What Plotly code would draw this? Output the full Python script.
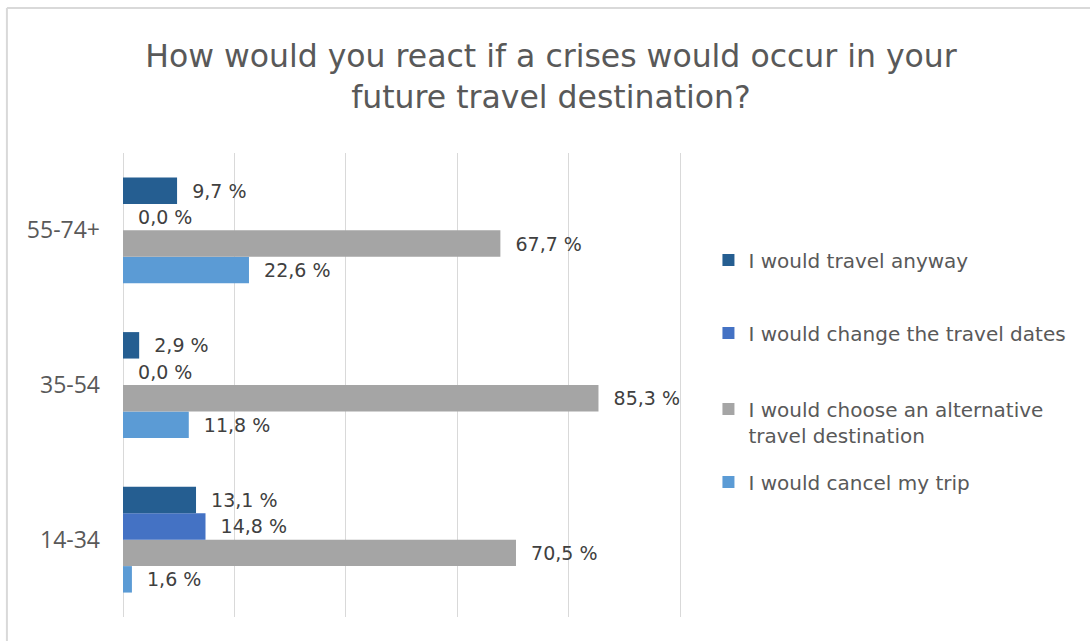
import plotly.graph_objects as go

# Age groups (bottom to top on the chart)
age_groups = ["14-34", "35-54", "55-74+"]

# Share of respondents per reaction, in percent
travel_anyway = [13.1, 2.9, 9.7]
change_dates = [14.8, 0.0, 0.0]
alternative_destination = [70.5, 85.3, 67.7]
cancel_trip = [1.6, 11.8, 22.6]

series_names = [
    "I would travel anyway",
    "I would change the travel dates",
    "I would choose an alternative<br>travel destination",
    "I would cancel my trip",
]
series_values = [travel_anyway, change_dates, alternative_destination, cancel_trip]
series_colors = ["#255E91", "#4472C4", "#A5A5A5", "#5B9BD5"]
legend_ids = ["legend", "legend2", "legend3", "legend4"]
# vertical pixel centre of each legend entry
legend_centres = [260, 333, 422, 482]

FONT = "DejaVu Sans"
TICK_FONT = "Open Sans"
TEXT_GREY = "#595959"

X_MAX = 101  # axis runs a little past 100 so the 100 gridline is drawn
PLOT_LEFT, PLOT_TOP, PLOT_BOTTOM = 123, 153, 617
PX_PER_UNIT = 557 / 100
PLOT_RIGHT = PLOT_LEFT + PX_PER_UNIT * X_MAX
PLOT_W = PLOT_RIGHT - PLOT_LEFT
PLOT_H = PLOT_BOTTOM - PLOT_TOP


def px_to_paper_x(px):
    return (px - PLOT_LEFT) / PLOT_W


def px_to_paper_y(py):
    return (PLOT_BOTTOM - py) / PLOT_H


def pct_label(v):
    return "  " + f"{v:.1f}".replace(".", ",") + " %"


fig = go.Figure()
# Plotly puts the first trace at the bottom of each group, so add them in reverse
for name, vals, color, leg in reversed(list(zip(series_names, series_values, series_colors, legend_ids))):
    fig.add_trace(
        go.Bar(
            y=age_groups,
            x=vals,
            name=name,
            orientation="h",
            marker=dict(color=color, line=dict(width=0)),
            text=[pct_label(v) for v in vals],
            textposition="outside",
            cliponaxis=False,
            textfont=dict(family=FONT, size=19, color="#404040"),
            legend=leg,
        )
    )

legend_common = dict(
    x=px_to_paper_x(708),
    xanchor="left",
    yanchor="middle",
    valign="top",
    font=dict(family=FONT, size=20, color=TEXT_GREY),
    bgcolor="rgba(0,0,0,0)",
)
legend_layout = {
    leg: dict(legend_common, y=px_to_paper_y(cy))
    for leg, cy in zip(legend_ids, legend_centres)
}

fig.update_layout(
    width=1090,
    height=641,
    margin=dict(l=PLOT_LEFT, r=1090 - PLOT_RIGHT, t=PLOT_TOP, b=641 - PLOT_BOTTOM),
    paper_bgcolor="white",
    plot_bgcolor="white",
    barmode="group",
    bargap=0.316,
    bargroupgap=0,
    title=dict(
        text="How would you react if a crises would occur in your<br>future travel destination?",
        x=551 / 1090,
        xref="container",
        xanchor="center",
        y=1 - 67 / 641,
        yref="container",
        yanchor="top",
        font=dict(family=FONT, size=31.5, color=TEXT_GREY),
    ),
    xaxis=dict(
        range=[0, X_MAX],
        dtick=20,
        showticklabels=False,
        showgrid=True,
        gridcolor="#D9D9D9",
        gridwidth=1,
        zeroline=True,
        zerolinecolor="#D9D9D9",
        zerolinewidth=1,
        showline=False,
        fixedrange=True,
    ),
    yaxis=dict(
        showgrid=False,
        showline=False,
        ticks="",
        ticklabelstandoff=22,
        tickfont=dict(family=TICK_FONT, size=23, color=TEXT_GREY),
        fixedrange=True,
    ),
    showlegend=True,
    font=dict(family=FONT),
    **legend_layout,
)

# Thin chart-area border along the top and left edges
border_top = px_to_paper_y(8)
border_left = px_to_paper_x(7)
fig.add_shape(type="line", xref="paper", yref="paper",
              x0=border_left, x1=px_to_paper_x(1090),
              y0=border_top, y1=border_top,
              line=dict(color="#D9D9D9", width=2))
fig.add_shape(type="line", xref="paper", yref="paper",
              x0=border_left, x1=border_left,
              y0=border_top, y1=px_to_paper_y(641),
              line=dict(color="#D9D9D9", width=2))

fig.write_html("out.html")
